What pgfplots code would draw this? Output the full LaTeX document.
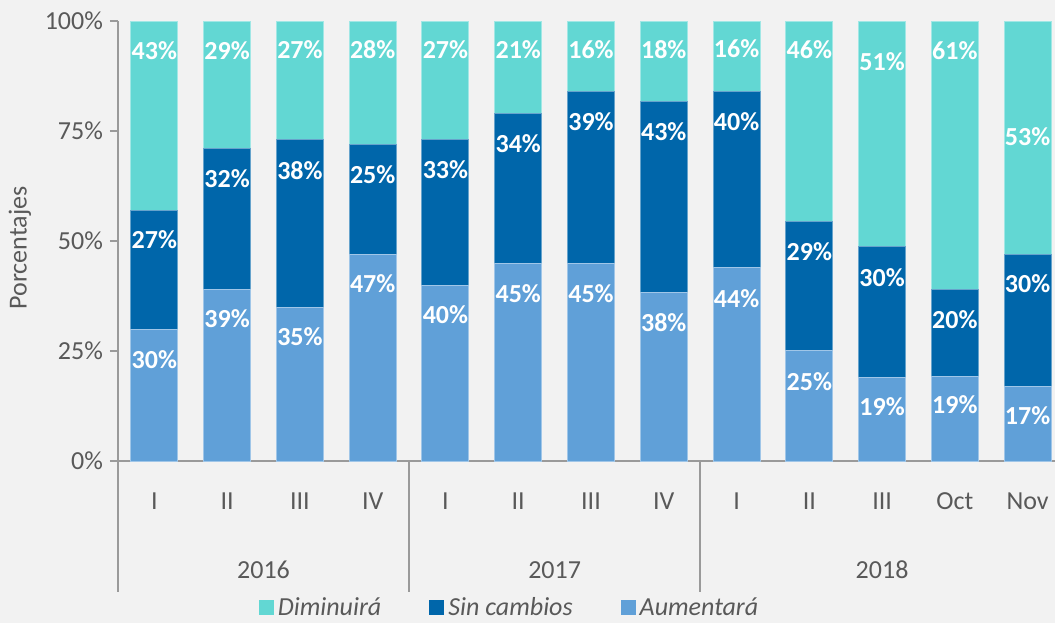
\documentclass[border=0pt]{standalone}
\usepackage{fontspec}
\setmainfont{Carlito}
\usepackage{pgfplots}
\pgfplotsset{compat=1.18}
\usepackage{pgfplotstable}
\definecolor{cDim}{HTML}{62D7D3}
\definecolor{cSin}{HTML}{0066AA}
\definecolor{cAum}{HTML}{60A0D8}
\definecolor{txt}{HTML}{595959}
\definecolor{axg}{HTML}{9A9A9A}
\definecolor{bg}{HTML}{F2F2F2}

% bar heights (percent)
\pgfplotstableread{
x A S D
0 30 27 43
1 39 32 29
2 35 38 27
3 47 25 28
4 40 33 27
5 45 34 21
6 45 39 16
7 38.3 43.3 18.4
8 44 40 16
9 25.1 29.3 45.6
10 18.9 29.8 51.3
11 19.3 19.6 61.1
12 17 30 53
}\data

% data labels: x, vertical position of label (percent scale), printed value
\pgfplotstableread{
x y v
0 23.1 30
1 32.4 39
2 28.3 35
3 40.4 47
4 33.2 40
5 38.1 45
6 38.1 45
7 31.4 38
8 37.0 44
9 18.0 25
10 12.3 19
11 12.7 19
12 10.2 17
0 50.2 27
1 64.1 32
2 66.1 38
3 65.0 25
4 66.3 33
5 72.2 34
6 77.1 39
7 74.8 43
8 77.1 40
9 47.6 29
10 41.7 30
11 32.2 20
12 40.3 30
0 93.3 43
1 93.3 29
2 93.4 27
3 93.4 28
4 93.4 27
5 93.4 21
6 93.6 16
7 93.4 18
8 93.8 16
9 93.4 46
10 90.8 51
11 93.3 61
12 73.7 53
}\labels

\begin{document}
\begin{tikzpicture}[font=\fontsize{13}{15}\selectfont]
\path[use as bounding box, fill=bg] (-59pt,-81pt) rectangle (468.5pt,230.5pt);
\begin{axis}[
  scale only axis, width=473pt, height=220pt,
  ybar stacked, bar width=23.5pt,
  xmin=-0.5, xmax=12.5, ymin=0, ymax=100,
  clip=false,
  axis x line=bottom, axis y line=left,
  axis line style={axg, line width=0.75pt, -},
  ytick={0,25,50,75,100},
  yticklabel={\pgfmathprintnumber{\tick}\%},
  tick align=outside, major tick length=4pt,
  y tick style={axg, line width=0.75pt},
  x tick style={draw=none},
  xtick={0,...,12},
  xticklabels={I,II,III,IV,I,II,III,IV,I,II,III,Oct,Nov},
  xticklabel style={anchor=base, yshift=-20.2pt},
  tick label style={text=txt, font=\fontsize{13}{15}\selectfont},
  /pgf/number format/assume math mode=true,
  ylabel={Porcentajes},
  ylabel style={at={(axis description cs:-0.1036,0.484)}, anchor=center, text=txt, font=\fontsize{13}{15}\selectfont},
  reverse legend,
  legend columns=3,
  legend style={at={(0.415,-0.334)}, anchor=center, draw=none, fill=none,
    font=\fontsize{13}{15}\selectfont\itshape, text=txt,
    /tikz/every even column/.append style={column sep=22pt}},
]
\addplot[fill=cAum, draw=cAum!60!white, line width=0.5pt,
  legend image code/.code={\fill[cAum] (0pt,-3.5pt) rectangle (7pt,3.5pt);}]
  table[x=x, y=A] {\data};
\addlegendentry{Aumentará}
\addplot[fill=cSin, draw=cSin!60!white, line width=0.5pt,
  legend image code/.code={\fill[cSin] (0pt,-3.5pt) rectangle (7pt,3.5pt);}]
  table[x=x, y=S] {\data};
\addlegendentry{Sin cambios}
\addplot[fill=cDim, draw=cDim!60!white, line width=0.5pt,
  legend image code/.code={\fill[cDim] (0pt,-3.5pt) rectangle (7pt,3.5pt);}]
  table[x=x, y=D] {\data};
\addlegendentry{Diminuirá}
\draw[axg, line width=0.75pt] (axis cs:-0.5,0) -- ++(0pt,-65.5pt);
\draw[axg, line width=0.75pt] (axis cs:3.5,0) -- ++(0pt,-65.5pt);
\draw[axg, line width=0.75pt] (axis cs:7.5,0) -- ++(0pt,-65.5pt);
\node[anchor=base, text=txt, yshift=-58.7pt] at (axis cs:1.5,0) {2016};
\node[anchor=base, text=txt, yshift=-58.7pt] at (axis cs:5.5,0) {2017};
\node[anchor=base, text=txt, yshift=-58.7pt] at (axis cs:10,0) {2018};
\end{axis}
\begin{axis}[
  scale only axis, width=473pt, height=220pt,
  xmin=-0.5, xmax=12.5, ymin=0, ymax=100,
  hide axis, clip=false,
  /pgf/number format/assume math mode=true,
]
\addplot[draw=none, mark=none, only marks,
  nodes near coords={\pgfmathprintnumber{\pgfplotspointmeta}\%},
  point meta=explicit,
  every node near coord/.append style={anchor=center, yshift=0pt, text=white,
    font=\fontsize{13}{15}\selectfont\bfseries}]
  table[x=x, y=y, meta=v] {\labels};
\end{axis}
\end{tikzpicture}
\end{document}
